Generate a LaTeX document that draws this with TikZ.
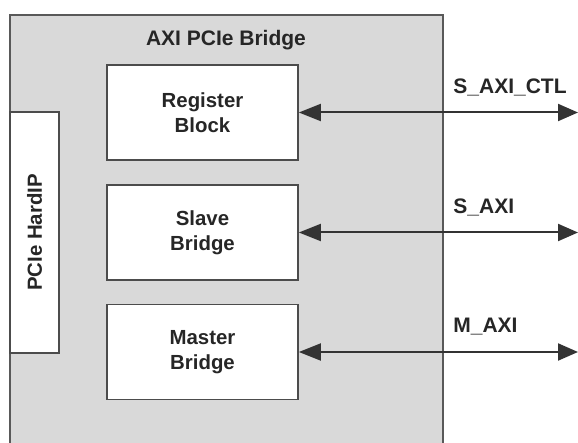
\documentclass[tikz,border=0pt]{standalone}
\usepackage{fontspec}
\setmainfont{Liberation Sans}
\usetikzlibrary{arrows.meta}

\tikzset{
  block/.style={rectangle,
      fill=white,
      draw=black!70,
      line width=0.9pt,
      minimum width=95.5pt,
      minimum height=47.5pt,
      align=center,
      text=black!85,
      font=\fontsize{10.2}{12.5}\selectfont\bfseries},
  port/.style={anchor=west,
      inner sep=0pt,
      text=black!85,
      font=\fontsize{10.5}{12}\selectfont\bfseries},
  bus/.style={draw=black!80,
      line width=1pt,
      {Triangle[length=11pt,width=8.5pt]}-{Triangle[length=10pt,width=8.5pt]}}
}

\begin{document}
\begin{tikzpicture}[x=0.5pt, y=-0.5pt]
\useasboundingbox (0,0) rectangle (578,443);
\clip (0,0) rectangle (578,443);
\fill[white] (0,0) rectangle (578,443);

% bridge outline
\draw[fill=gray!30, draw=black!65, line width=1pt] (10,15) rectangle (443,470);
\node[text=black!85, font=\fontsize{10.5}{12}\selectfont\bfseries] (title) at (226,40) {AXI PCIe Bridge};

% inner blocks
\node[block] (reg) at (202.5,112.5) {Register\\Block};
\node[block] (slave) at (202.5,232.5) {Slave\\Bridge};
\node[block] (master) at (202.5,352) {Master\\Bridge};
\node[block, rotate=90, minimum width=120.5pt, minimum height=24.5pt] (hardip) at (34.5,232.5) {PCIe HardIP};

% buses
\coordinate (ctlend) at (578,112.5);
\coordinate (saxiend) at (578,232.5);
\coordinate (maxiend) at (578,352);
\draw[bus] (reg.east) -- (ctlend);
\draw[bus] (slave.east) -- (saxiend);
\draw[bus] (master.east) -- (maxiend);

\node[port] (ctl) at (453,87) {S\_AXI\_CTL};
\node[port] (saxi) at (453,207) {S\_AXI};
\node[port] (maxi) at (453,327) {M\_AXI};
\end{tikzpicture}
\end{document}
